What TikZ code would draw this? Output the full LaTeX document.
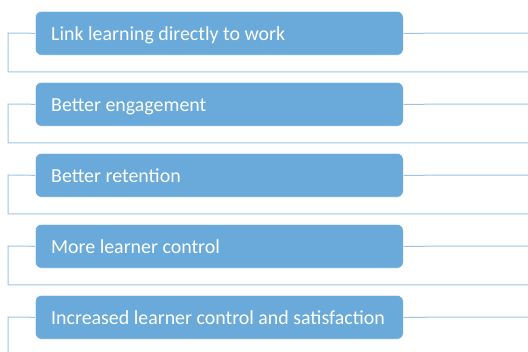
\documentclass[tikz,border=0pt]{standalone}
\usepackage{fontspec}
\setmainfont{Carlito}
\definecolor{boxblue}{RGB}{106,170,218}
\definecolor{linkblue}{RGB}{157,196,230}
\tikzset{
  itembox/.style={draw=white, line width=0.6pt, fill=boxblue, rounded corners=6pt,
    minimum width=368pt, minimum height=44pt, inner sep=0pt, anchor=north west},
  itemtext/.style={text=white, font=\fontsize{19.9}{22}\selectfont, anchor=base west, inner sep=0pt},
  conn/.style={draw=linkblue, line width=1pt}
}
\begin{document}
\begin{tikzpicture}[x=1pt,y=-1pt]
\useasboundingbox (0,0) rectangle (528,352);
\clip (0,0) rectangle (528,352);
\foreach \i/\t/\txt in {1/11/Link learning directly to work,
                        2/82/Better engagement,
                        3/153/Better retention,
                        4/224/More learner control,
                        5/295/Increased learner control and satisfaction}{
  \coordinate (l\i) at (8,\t+22);
  \coordinate (lb\i) at (8,\t+61);
  \coordinate (rb\i) at (540,\t+61);
  \coordinate (r\i) at (540,\t+22);
  \node[itembox] (b\i) at (35,\t) {};
  \draw[conn] (b\i.west) -- (l\i) -- (lb\i) -- (rb\i);
  \draw[conn] (b\i.east) -- (r\i);
  \node[itemtext] (t\i) at (51,\t+29.7) {\txt};
}
\end{tikzpicture}
\end{document}
